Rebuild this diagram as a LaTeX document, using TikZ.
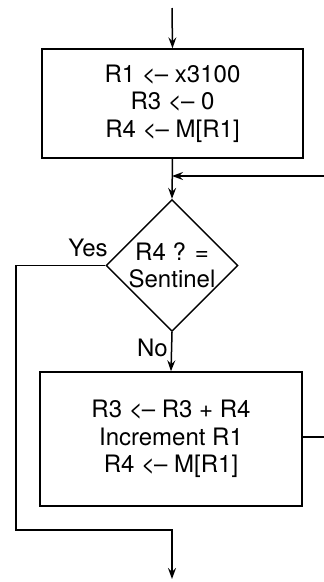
\documentclass[tikz,border=0pt]{standalone}
\usepackage{fontspec}
\setmainfont{TeX Gyre Heros}
\usetikzlibrary{arrows.meta, shapes.geometric}

\tikzset{
  flowline/.style={line width=1.5pt, -{Stealth[length=11pt, width=8pt, inset=4pt]}},
  plainline/.style={line width=1.5pt},
  stepbox/.style={draw, line width=1.5pt, rectangle, inner sep=0pt, align=center,
                  font=\fontsize{24}{27.5}\selectfont},
  testbox/.style={draw, line width=1.5pt, diamond, inner sep=0pt, align=center,
                  font=\fontsize{24}{27}\selectfont},
  branch/.style={font=\fontsize{24}{27}\selectfont}
}

\begin{document}
\begin{tikzpicture}[x=1pt, y=-1pt]
  \path[use as bounding box, clip] (0,0) rectangle (324,582);

  % Initialisation
  \node[stepbox, minimum width=261pt, minimum height=109pt] (init) at (172.5,103.5)
    {R1 <\kern-1pt-- x3100\\R3 <\kern-1pt-- 0\\R4 <\kern-1pt-- M[R1]};

  % Test
  \node[testbox, minimum width=130pt, minimum height=127pt] (test) at (172,265.5)
    {R4 ? =\\Sentinel};

  % Loop body
  \node[stepbox, minimum width=262pt, minimum height=134pt] (body) at (171,439)
    {R3 <\kern-1pt-- R3 + R4\\Increment R1\\R4 <\kern-1pt-- M[R1]};

  % Free ends
  \coordinate (start) at (172,8);
  \coordinate (join) at (172,176);
  \coordinate (finish) at (172,579);
  \coordinate (back) at (340,176);

  % Connectors
  \draw[flowline] (start) -- (init.north);
  \draw[flowline] (init.south) -- (test.north);
  \draw[flowline] (test.south) -- node[branch, left, inner sep=3pt, yshift=4pt] {No} (body.north);
  \draw[plainline] (body.east |- 0,437) -| (back);
  \draw[flowline] (back) -- (join);
  \draw[flowline] (test.west) -| (16,530) -| (finish);

  % Labels
  \node[branch] (yes) at (88,248) {Yes};
\end{tikzpicture}
\end{document}
